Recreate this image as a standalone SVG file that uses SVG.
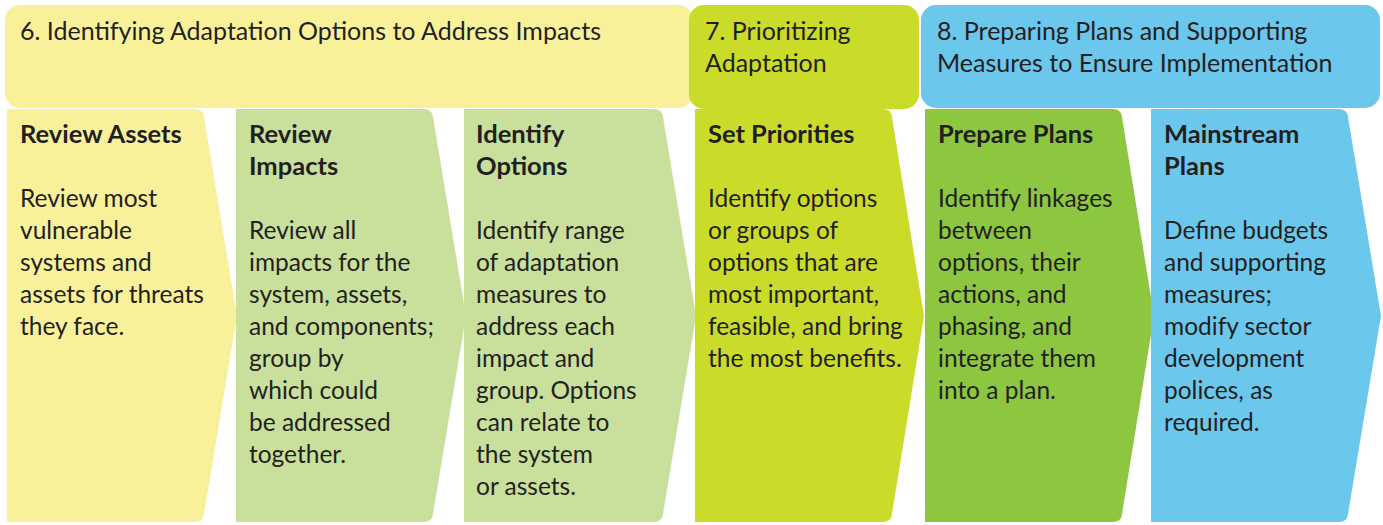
<svg xmlns="http://www.w3.org/2000/svg" width="1383" height="525" viewBox="0 0 1383 525">
<style>
.t{font-family:Lato,"Open Sans",sans-serif;fill:#231f20}
.h{font-size:25px}
.b{font-size:25.5px;font-weight:bold}
.p{font-size:24.5px}
.yel{fill:#f9f19a}
.lg{fill:#c9e09c}
.lime{fill:#cbdb2a}
.grn{fill:#8dc63f}
.blu{fill:#6cc7ec}
</style>
<rect width="1383" height="525" fill="#ffffff"/>
<g id="phase6">
<rect class="yel" x="5" y="5" width="688" height="103" rx="15"/>
<text class="t h" x="20" y="40">6. Identifying Adaptation Options to Address Impacts</text>
</g>
<g id="phase7">
<rect class="lime" x="689" y="5" width="230" height="104" rx="15"/>
<text class="t h" x="705" y="40">7. Prioritizing</text>
<text class="t h" x="705" y="72">Adaptation</text>
</g>
<g id="phase8">
<rect class="blu" x="921" y="5" width="459" height="103" rx="15"/>
<text class="t h" x="937" y="40">8. Preparing Plans and Supporting</text>
<text class="t h" x="937" y="72">Measures to Ensure Implementation</text>
</g>
<g id="review-assets">
<path class="yel" d="M7,109 H195 Q203,109 204,117 L237,316 L204,514 Q203,522 195,522 H7 Z"/>
<text class="t b" x="20" y="143">Review Assets</text>
<text class="t p" x="20" y="207">Review most</text>
<text class="t p" x="20" y="239">vulnerable</text>
<text class="t p" x="20" y="271">systems and</text>
<text class="t p" x="20" y="303">assets for threats</text>
<text class="t p" x="20" y="335">they face.</text>
</g>
<g id="review-impacts">
<path class="lg" d="M236,109 H424 Q432,109 433,117 L466,316 L433,514 Q432,522 424,522 H236 Z"/>
<text class="t b" x="249" y="143">Review</text>
<text class="t b" x="249" y="175">Impacts</text>
<text class="t p" x="249" y="239">Review all</text>
<text class="t p" x="249" y="271">impacts for the</text>
<text class="t p" x="249" y="303">system, assets,</text>
<text class="t p" x="249" y="335">and components;</text>
<text class="t p" x="249" y="367">group by</text>
<text class="t p" x="249" y="399">which could</text>
<text class="t p" x="249" y="431">be addressed</text>
<text class="t p" x="249" y="463">together.</text>
</g>
<g id="identify-options">
<path class="lg" d="M464,109 H654 Q662,109 663,117 L696,316 L663,514 Q662,522 654,522 H464 Z"/>
<text class="t b" x="476" y="143">Identify</text>
<text class="t b" x="476" y="175">Options</text>
<text class="t p" x="476" y="239">Identify range</text>
<text class="t p" x="476" y="271">of adaptation</text>
<text class="t p" x="476" y="303">measures to</text>
<text class="t p" x="476" y="335">address each</text>
<text class="t p" x="476" y="367">impact and</text>
<text class="t p" x="476" y="399">group. Options</text>
<text class="t p" x="476" y="431">can relate to</text>
<text class="t p" x="476" y="463">the system</text>
<text class="t p" x="476" y="495">or assets.</text>
</g>
<g id="set-priorities">
<path class="lime" d="M695,109 H883 Q891,109 892,117 L924,316 L892,514 Q891,522 883,522 H695 Z"/>
<text class="t b" x="708" y="143">Set Priorities</text>
<text class="t p" x="708" y="207">Identify options</text>
<text class="t p" x="708" y="239">or groups of</text>
<text class="t p" x="708" y="271">options that are</text>
<text class="t p" x="708" y="303">most important,</text>
<text class="t p" x="708" y="335">feasible, and bring</text>
<text class="t p" x="708" y="367">the most benefits.</text>
</g>
<g id="prepare-plans">
<path class="grn" d="M925,109 H1113 Q1121,109 1122,117 L1154,316 L1122,514 Q1121,522 1113,522 H925 Z"/>
<text class="t b" x="938" y="143">Prepare Plans</text>
<text class="t p" x="938" y="207">Identify linkages</text>
<text class="t p" x="938" y="239">between</text>
<text class="t p" x="938" y="271">options, their</text>
<text class="t p" x="938" y="303">actions, and</text>
<text class="t p" x="938" y="335">phasing, and</text>
<text class="t p" x="938" y="367">integrate them</text>
<text class="t p" x="938" y="399">into a plan.</text>
</g>
<g id="mainstream-plans">
<path class="blu" d="M1151,109 H1339 Q1347,109 1348,117 L1381,316 L1348,514 Q1347,522 1339,522 H1151 Z"/>
<text class="t b" x="1164" y="143">Mainstream</text>
<text class="t b" x="1164" y="175">Plans</text>
<text class="t p" x="1164" y="239">Define budgets</text>
<text class="t p" x="1164" y="271">and supporting</text>
<text class="t p" x="1164" y="303">measures;</text>
<text class="t p" x="1164" y="335">modify sector</text>
<text class="t p" x="1164" y="367">development</text>
<text class="t p" x="1164" y="399">polices, as</text>
<text class="t p" x="1164" y="431">required.</text>
</g>
<g id="connectors"/>
</svg>
